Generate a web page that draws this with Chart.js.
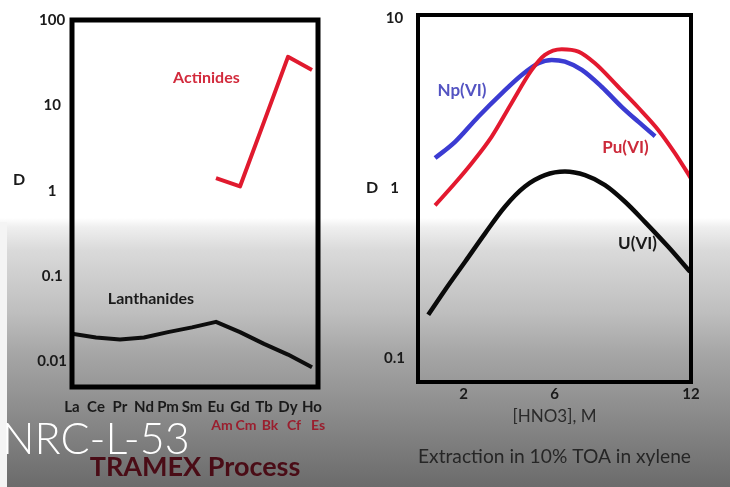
<!DOCTYPE html>
<html><head><meta charset="utf-8">
<script src="https://cdn.jsdelivr.net/npm/chart.js@4"></script>
<style>
html,body{margin:0;padding:0;}
body{width:730px;height:487px;position:relative;overflow:hidden;
background:linear-gradient(to bottom,#ffffff 0px,#ffffff 218px,#efefef 227px,#dadada 250px,#bebebe 313px,#a6a6a6 353px,#7c7c7c 447px,#6b6b6b 487px);}
#strip{position:absolute;left:0;top:222px;width:7px;height:265px;background:#f4f4f4;}
#c1{position:absolute;left:0;top:0;}
#c2{position:absolute;left:350px;top:0;}
#wm{position:absolute;left:2px;top:416px;font-family:Lato,'Open Sans',sans-serif;font-weight:300;font-size:43px;line-height:1;color:#ffffff;white-space:nowrap;}
</style></head>
<body>
<div id="strip"></div>
<canvas id="c1" width="350" height="487"></canvas>
<canvas id="c2" width="380" height="487"></canvas>
<div id="wm">NRC-L-53</div>
<script>
// ---- Left panel: TRAMEX process ----
const lanthanides = ['La','Ce','Pr','Nd','Pm','Sm','Eu','Gd','Tb','Dy','Ho'];
const lanthanideD = [0.021,0.019,0.018,0.019,0.022,0.025,0.029,0.022,0.016,0.012,0.0085];
const actinides = ['Am','Cm','Bk','Cf','Es'];
const actinideUnder = ['Eu','Gd','Tb','Dy','Ho'];
const actinideD = [1.4,1.12,6.4,37,26];
const leftYTicks = [0.01,0.1,1,10,100];
const leftYTickLabels = ['0.01','0.1','1','10','100'];

// ---- Right panel: extraction in 10% TOA in xylene ----
const hno3Np = [0.75,1.63,2.65,3.68,4.56,5.29,5.88,6.46,7.2,8.07,8.95,9.68,10.42];
const dNp    = [1.50,1.87,2.63,3.61,4.63,5.43,5.68,5.55,4.96,3.95,3.01,2.46,2.02];
const hno3Pu = [0.75,1.63,2.36,3.24,4.11,5.0,5.58,6.32,7.05,7.78,8.8,9.68,10.56,11.3,12.0];
const dPu    = [0.79,1.07,1.40,2.01,3.16,4.96,6.08,6.57,6.36,5.43,3.95,2.98,2.20,1.60,1.14];
const hno3U  = [0.45,1.19,2.07,2.95,3.82,4.7,5.58,6.46,7.34,8.22,9.1,9.98,11.01,11.96];
const dU     = [0.179,0.251,0.368,0.541,0.776,1.02,1.19,1.25,1.19,1.04,0.83,0.63,0.449,0.321];
const rightXTicks = [2,6,12];
const rightXTickLabels = ['2','6','12'];
const rightYTicks = [0.1,1,10];
const rightYTickLabels = ['0.1','1','10'];

const FONT = 'Lato, "Open Sans", sans-serif';
const INK = '#1a1a1a';

const framePlugin = {
  id: 'frame',
  afterDatasetsDraw(chart, args, opts) {
    const {ctx, chartArea: a} = chart;
    ctx.save();
    ctx.lineWidth = opts.width;
    ctx.strokeStyle = opts.color;
    ctx.strokeRect(a.left, a.top, a.right - a.left, a.bottom - a.top);
    ctx.restore();
  }
};
const notesPlugin = {
  id: 'notes',
  afterDraw(chart, args, opts) {
    const {ctx, chartArea: a, scales} = chart;
    ctx.save();
    ctx.textAlign = 'center';
    ctx.textBaseline = 'middle';
    (opts.items || []).forEach(n => {
      ctx.font = n.font;
      ctx.fillStyle = n.color;
      ctx.fillText(n.text, scales.x.getPixelForValue(n.x), scales.y.getPixelForValue(n.y));
    });
    if (opts.yTitle) {
      const t = opts.yTitle;
      ctx.font = t.font;
      ctx.fillStyle = t.color;
      ctx.fillText(t.text, a.left + t.dx, a.top + t.frac * (a.bottom - a.top));
    }
    ctx.restore();
  }
};

function noGrid() { return {display: false, drawTicks: false, tickLength: 0}; }
function fixY(width) {
  return s => { s.width = width; s.paddingTop = 0; s.paddingBottom = 0; };
}

new Chart(document.getElementById('c1'), {
  type: 'line',
  data: {
    datasets: [
      {label: 'Actinides',
       data: actinides.map((c, i) => ({x: lanthanides.indexOf(actinideUnder[i]), y: actinideD[i]})),
       borderColor: '#e01a2e', borderWidth: 4, pointRadius: 0, tension: 0, borderJoinStyle: 'round'},
      {label: 'Lanthanides',
       data: lanthanides.map((c, i) => ({x: i, y: lanthanideD[i]})),
       borderColor: '#0d0d0d', borderWidth: 4, pointRadius: 0, tension: 0, borderJoinStyle: 'round'}
    ]
  },
  options: {
    responsive: false, animation: false, events: [],
    layout: {padding: {left: 0, top: 20, right: 32, bottom: 0}},
    plugins: {
      legend: {display: false}, tooltip: {enabled: false},
      title: {display: true, text: 'TRAMEX Process', position: 'bottom', fullSize: false,
              color: '#4a0c16', font: {family: FONT, weight: 'bold', size: 27},
              padding: {top: 16.8, bottom: 3.8}},
      frame: {width: 5, color: '#000000'},
      notes: {
        items: [
          {text: 'Actinides', x: 5.6, y: 21, color: '#d22a3c', font: 'bold 16px ' + FONT},
          {text: 'Lanthanides', x: 3.29, y: 0.0545, color: INK, font: 'bold 16px ' + FONT}
        ],
        yTitle: {text: 'D', dx: -53, frac: 0.435, color: INK, font: 'bold 16px ' + FONT}
      }
    },
    scales: {
      x: {type: 'linear', position: 'bottom', min: 0, max: 10.25, weight: 0,
          grid: noGrid(), border: {display: false},
          afterBuildTicks: s => { s.ticks = lanthanides.map((c, i) => ({value: i})); },
          afterFit: s => { s.height = 29; },
          ticks: {autoSkip: false, maxRotation: 0, padding: 11, color: INK,
                  font: {family: FONT, weight: 'bold', size: 15},
                  callback: (v) => lanthanides[v]}},
      x2: {type: 'linear', position: 'bottom', min: -0.25, max: 10, weight: 1,
           grid: noGrid(), border: {display: false},
           afterBuildTicks: s => { s.ticks = actinideUnder.map(c => ({value: lanthanides.indexOf(c)})); },
           afterFit: s => { s.height = 18; },
           ticks: {autoSkip: false, maxRotation: 0, padding: 1, color: '#9a1e2e',
                   font: {family: FONT, weight: 'bold', size: 14},
                   callback: (v, i) => actinides[i]}},
      y: {type: 'logarithmic', min: 0.005, max: 100,
          grid: noGrid(), border: {display: false},
          afterBuildTicks: s => { s.ticks = leftYTicks.map(v => ({value: v})); },
          afterFit: fixY(72),
          ticks: {crossAlign: 'center', padding: 5, color: INK,
                  font: {family: FONT, weight: 'bold', size: 15},
                  callback: (v, i) => leftYTickLabels[i]}}
    }
  },
  plugins: [framePlugin, notesPlugin]
});

new Chart(document.getElementById('c2'), {
  type: 'line',
  data: {
    datasets: [
      {label: 'Pu(VI)', data: hno3Pu.map((x, i) => ({x: x, y: dPu[i]})),
       borderColor: '#e3192f', borderWidth: 4, pointRadius: 0, cubicInterpolationMode: 'monotone'},
      {label: 'Np(VI)', data: hno3Np.map((x, i) => ({x: x, y: dNp[i]})),
       borderColor: '#3b3bd2', borderWidth: 4.5, pointRadius: 0, cubicInterpolationMode: 'monotone'},
      {label: 'U(VI)', data: hno3U.map((x, i) => ({x: x, y: dU[i]})),
       borderColor: '#0a0a0a', borderWidth: 4.5, pointRadius: 0, cubicInterpolationMode: 'monotone'}
    ]
  },
  options: {
    responsive: false, animation: false, events: [],
    layout: {padding: {left: 0, top: 15, right: 39, bottom: 0}},
    plugins: {
      legend: {display: false}, tooltip: {enabled: false},
      title: {display: true, text: 'Extraction in 10% TOA in xylene', position: 'bottom', fullSize: false,
              color: '#262626', font: {family: FONT, weight: 'normal', size: 19.5},
              padding: {top: 18.7, bottom: 18.3}},
      frame: {width: 4, color: '#000000'},
      notes: {
        items: [
          {text: 'Np(VI)', x: 1.93, y: 3.73, color: '#5353c2', font: 'bold 17px ' + FONT},
          {text: 'Pu(VI)', x: 9.12, y: 1.74, color: '#cc2a3a', font: 'bold 17px ' + FONT},
          {text: 'U(VI)', x: 9.65, y: 0.468, color: INK, font: 'bold 17px ' + FONT}
        ],
        yTitle: {text: 'D', dx: -46, frac: 0.471, color: INK, font: 'bold 16px ' + FONT}
      }
    },
    scales: {
      x: {type: 'linear', position: 'bottom', min: 0, max: 12,
          grid: noGrid(), border: {display: false},
          afterBuildTicks: s => { s.ticks = rightXTicks.map(v => ({value: v})); },
          afterFit: s => { s.height = 44.6; },
          title: {display: true, text: '[HNO3], M', color: '#2a2a2a',
                  font: {family: FONT, weight: 'normal', size: 17}, padding: {top: 0, bottom: 0}},
          ticks: {autoSkip: false, maxRotation: 0, padding: 3, color: INK,
                  font: {family: FONT, weight: 'bold', size: 15},
                  callback: (v, i) => rightXTickLabels[i]}},
      y: {type: 'logarithmic', min: 0.072, max: 10.45,
          grid: noGrid(), border: {display: false},
          afterBuildTicks: s => { s.ticks = rightYTicks.map(v => ({value: v})); },
          afterFit: fixY(68),
          ticks: {crossAlign: 'center', padding: 13, color: INK,
                  font: {family: FONT, weight: 'bold', size: 15},
                  callback: (v, i) => rightYTickLabels[i]}}
    }
  },
  plugins: [framePlugin, notesPlugin]
});
</script>
</body></html>
